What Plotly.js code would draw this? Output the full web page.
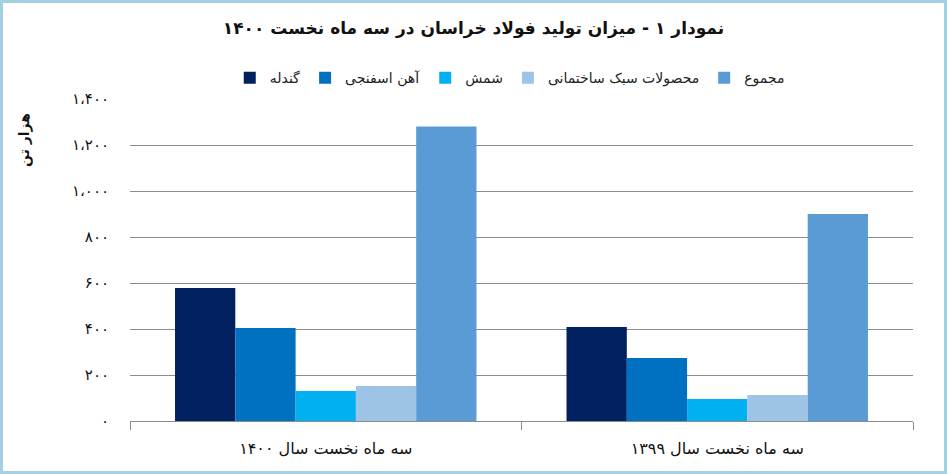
<!DOCTYPE html>
<html>
<head>
<meta charset="utf-8">
<script src="https://cdn.plot.ly/plotly-3.0.1.min.js"></script>
<style>
  body { margin: 0; background: #fff; }
  #wrap { position: relative; width: 947px; height: 474px; }
  #frame {
    position: absolute; left: 0; top: 0; width: 947px; height: 474px;
    box-sizing: border-box; border: 3px solid #a3d0e3; pointer-events: none;
  }
</style>
</head>
<body>
<div id="wrap">
  <div id="chart"></div>
  <div id="frame"></div>
</div>
<script>
// categories (right group is the older year)
const categories = ["سه ماه نخست سال ۱۴۰۰", "سه ماه نخست سال ۱۳۹۹"]
const seriesNames = ["گندله", "آهن اسفنجی", "شمش", "محصولات سبک ساختمانی", "مجموع"]
const gandole = [578, 409]
const ahanEsfanji = [404, 274]
const shemsh = [130, 96]
const mahsulat = [152, 113]
const majmu = [1280, 900]
const tickVals = [0, 200, 400, 600, 800, 1000, 1200, 1400]
const tickText = ["۰", "۲۰۰", "۴۰۰", "۶۰۰", "۸۰۰", "۱،۰۰۰", "۱،۲۰۰", "۱،۴۰۰"]

const colors = ["#002060", "#0070c0", "#00b0f0", "#9dc3e6", "#5b9bd5"]
const values = [gandole, ahanEsfanji, shemsh, mahsulat, majmu]

const font = "DejaVu Sans, sans-serif"

Plotly.newPlot(
    document.getElementById("chart"),
    values.map((v, i) => ({
        type: "bar",
        x: categories,
        y: v,
        name: seriesNames[i],
        marker: { color: colors[i] },
        hoverinfo: "name+y",
    })),
    {
        width: 947,
        height: 474,
        margin: { l: 130, r: 34, t: 99, b: 53 },
        paper_bgcolor: "#ffffff",
        plot_bgcolor: "#ffffff",
        barmode: "group",
        bargap: 0.23,
        bargroupgap: 0,
        title: {
            text: "<b>نمودار ۱ - میزان تولید فولاد خراسان در سه ماه نخست ۱۴۰۰</b>",
            font: { family: font, size: 17, color: "#111" },
            x: 0.5,
            xanchor: "center",
            y: 0.94,
            yanchor: "middle",
        },
        showlegend: true,
        legend: {
            orientation: "h",
            x: 0.485,
            y: 1.065,
            xanchor: "center",
            yanchor: "middle",
            font: { family: font, size: 14, color: "#222" },
        },
        xaxis: {
            type: "category",
            showline: true,
            linecolor: "#8c8c8c",
            linewidth: 1,
            ticks: "outside",
            tickson: "boundaries",
            ticklen: 8,
            tickcolor: "#8c8c8c",
            ticklabelstandoff: 13,
            showgrid: false,
            tickfont: { family: font, size: 16, color: "#111" },
        },
        yaxis: {
            range: [0, 1400],
            tickvals: tickVals,
            ticktext: tickText,
            showgrid: true,
            gridcolor: "#8c8c8c",
            gridwidth: 1,
            zeroline: false,
            showline: false,
            ticks: "",
            ticklabelstandoff: 20,
            tickfont: { family: font, size: 15, color: "#111" },
        },
        annotations: [{
            text: "<b>هزار تن</b>",
            textangle: -90,
            showarrow: false,
            xref: "paper",
            yref: "paper",
            x: -0.134,
            y: 0.873,
            xanchor: "center",
            yanchor: "middle",
            font: { family: font, size: 14, color: "#111" },
        }],
    },
    { displayModeBar: false }
)
</script>
</body>
</html>
